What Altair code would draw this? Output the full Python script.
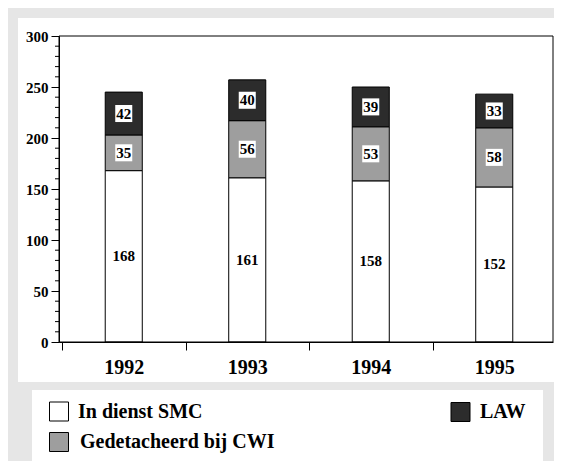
import altair as alt
import pandas as pd

years = ["1992", "1993", "1994", "1995"]
series = ["In dienst SMC", "Gedetacheerd bij CWI", "LAW"]
smc = [168, 161, 158, 152]
cwi = [35, 56, 53, 58]
law = [42, 40, 39, 33]
colors = ["#ffffff", "#9e9e9e", "#2c2c2c"]
y_major = [0, 50, 100, 150, 200, 250, 300]
y_minor = [10, 20, 30, 40, 60, 70, 80, 90, 110, 120, 130, 140, 160, 170, 180, 190,
           210, 220, 230, 240, 260, 270, 280, 290]

rows = []
for i, yr in enumerate(years):
    for k, (s, vals) in enumerate(zip(series, [smc, cwi, law])):
        rows.append({"year": yr, "series": s, "idx": k, "value": vals[i]})
df = pd.DataFrame(rows)

W, H = 494, 306
STEP = W / 4
FONT = "Liberation Serif"
one = pd.DataFrame({"d": [0]})

xscale = alt.Scale(domain=years, paddingInner=0.7, paddingOuter=0.35)
yscale = alt.Scale(domain=[0, 300], nice=False)

x_axis = alt.Axis(title=None, labelAngle=0, tickOffset=-STEP / 2 + 3, labelOffset=STEP / 2,
                  tickSize=8, labelFont=FONT, labelFontSize=20, labelFontWeight="bold",
                  labelColor="black", domainColor="black", tickColor="black",
                  labelPadding=7, zindex=1)
y_axis = alt.Axis(title=None, values=y_major, tickSize=8, labelFont=FONT, labelFontSize=15,
                  labelFontWeight="bold", labelColor="black", domainColor="black",
                  tickColor="black", labelPadding=3, grid=False, zindex=1)

# white panels over a light gray backdrop
panel = alt.Chart(one).mark_rect(color="white").encode(
    x=alt.value(-41), x2=alt.value(495), y=alt.value(-18), y2=alt.value(346))
legend_panel = alt.Chart(one).mark_rect(color="white").encode(
    x=alt.value(-27), x2=alt.value(484), y=alt.value(354), y2=alt.value(432))

bars = alt.Chart(df).mark_bar(stroke="black", strokeWidth=1, xOffset=3).encode(
    x=alt.X("year:N", scale=xscale, axis=x_axis),
    y=alt.Y("sum(value):Q", scale=yscale, axis=y_axis, stack="zero"),
    color=alt.Color("series:N", scale=alt.Scale(domain=series, range=colors), legend=None),
    order=alt.Order("idx:Q"),
)

frame = alt.Chart(one).mark_rect(filled=False, stroke="black", strokeWidth=1).encode(
    x=alt.value(0), x2=alt.value(W), y=alt.value(0), y2=alt.value(H))

minor = alt.Chart(pd.DataFrame({"t": y_minor})).mark_rule(color="black").encode(
    y=alt.Y("t:Q", scale=yscale, axis=y_axis), x=alt.value(-4), x2=alt.value(0))

base = alt.Chart(df).transform_stack(
    stack="value", groupby=["year"], sort=[alt.SortField("idx")], as_=["y0", "y1"]
).transform_calculate(mid="(datum.y0 + datum.y1) / 2")

boxes = base.transform_filter("datum.idx > 0").mark_square(
    size=290, color="white", opacity=1, xOffset=3).encode(
    x=alt.X("year:N", scale=xscale, axis=x_axis),
    y=alt.Y("mid:Q", scale=yscale, axis=y_axis))

labels = base.mark_text(font=FONT, fontSize=15, fontWeight="bold", color="black",
                        baseline="middle", xOffset=3).encode(
    x=alt.X("year:N", scale=xscale, axis=x_axis),
    y=alt.Y("mid:Q", scale=yscale, axis=y_axis),
    text="value:Q")

def leg_entry(name, color, cx, cy, tx):
    sw = alt.Chart(one).mark_square(size=361, fill=color, stroke="black", strokeWidth=1,
                                    opacity=1).encode(x=alt.value(cx), y=alt.value(cy))
    tt = alt.Chart(one).mark_text(text=name, font=FONT, fontSize=20, fontWeight="bold",
                                  color="black", align="left", baseline="middle").encode(
        x=alt.value(tx), y=alt.value(cy))
    return [sw, tt]

legs = (leg_entry(series[0], colors[0], 0, 375.5, 19)
        + leg_entry(series[1], colors[1], 0, 406, 21)
        + leg_entry(series[2], colors[2], 401.5, 376, 421))

chart = alt.layer(panel, legend_panel, bars, frame, minor, boxes, labels, *legs).properties(
    width=W, height=H,
    autosize=alt.AutoSizeParams(type="none"),
    padding={"left": 51, "top": 28, "right": 1, "bottom": 119},
).configure(background="#e6e6e6").configure_view(stroke=None)

chart.save("out.html", embed_options={"renderer": "svg", "actions": False})
